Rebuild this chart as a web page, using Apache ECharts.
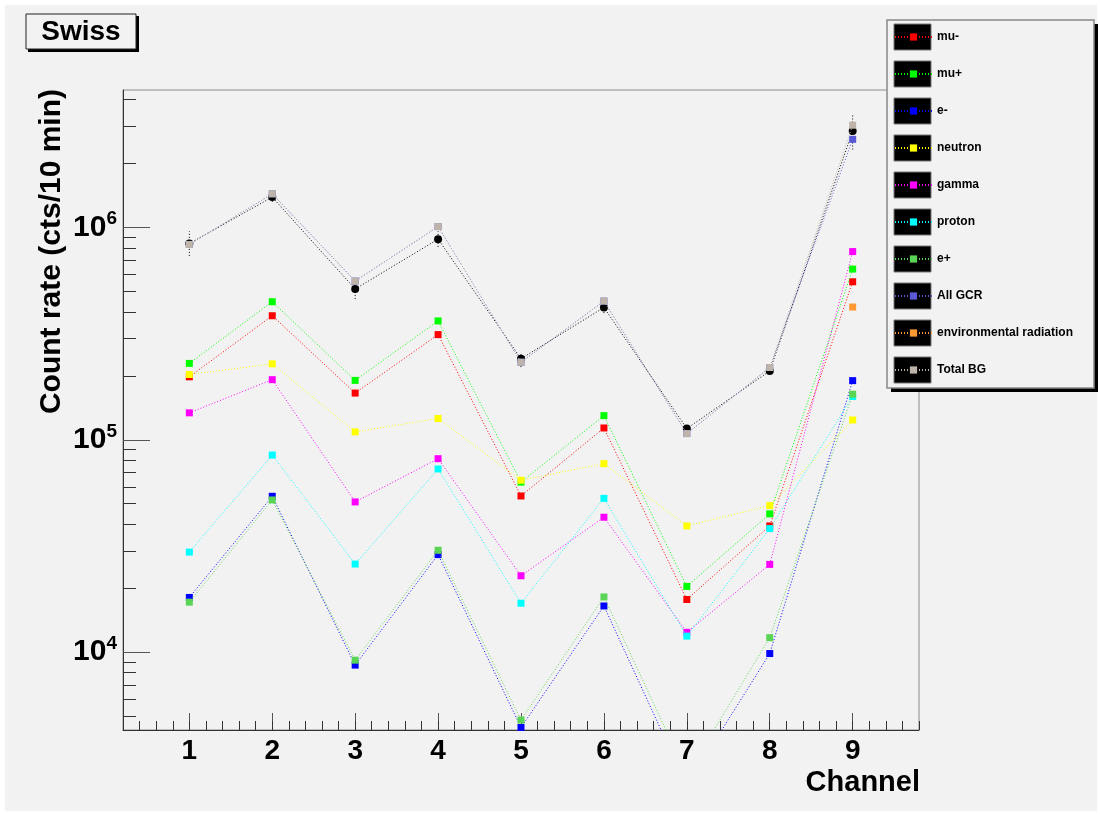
<!DOCTYPE html>
<html>
<head>
<meta charset="utf-8">
<script src="https://cdn.jsdelivr.net/npm/echarts@6/dist/echarts.min.js"></script>
<style>
html,body{margin:0;padding:0;background:#ffffff;}
#chart{width:1100px;height:814px;}
</style>
</head>
<body>
<div id="chart"></div>
<script>
// ---- data ----
const channels = [1, 2, 3, 4, 5, 6, 7, 8, 9];
const muMinus = [1.98e5, 3.84e5, 1.66e5, 3.13e5, 5.44e4, 1.137e5, 1.77e4, 3.93e4, 5.55e5];
const muPlus  = [2.29e5, 4.47e5, 1.905e5, 3.63e5, 6.32e4, 1.30e5, 2.04e4, 4.48e4, 6.37e5];
const eMinus  = [1.81e4, 5.42e4, 8.69e3, 2.88e4, 4.42e3, 1.65e4, 2.35e3, 9.85e3, 1.90e5];
const neutron = [2.03e5, 2.28e5, 1.09e5, 1.26e5, 6.45e4, 7.72e4, 3.93e4, 4.90e4, 1.24e5];
const gamma   = [1.34e5, 1.92e5, 5.10e4, 8.15e4, 2.29e4, 4.32e4, 1.24e4, 2.59e4, 7.70e5];
const proton  = [2.96e4, 8.48e4, 2.60e4, 7.29e4, 1.70e4, 5.30e4, 1.19e4, 3.82e4, 1.60e5];
const ePlus   = [1.72e4, 5.21e4, 9.17e3, 3.02e4, 4.79e3, 1.82e4, 2.65e3, 1.17e4, 1.64e5];
const allGCR  = [8.32e5, 1.44e6, 5.59e5, 1.01e6, 2.32e5, 4.50e5, 1.07e5, 2.19e5, 2.60e6];
const envRad  = [null, null, null, null, null, null, null, null, 4.22e5];
const totalBG = [8.32e5, 1.44e6, 5.59e5, 1.01e6, 2.32e5, 4.50e5, 1.07e5, 2.19e5, 3.03e6];
const measured     = [8.40e5, 1.39e6, 5.13e5, 8.81e5, 2.41e5, 4.20e5, 1.13e5, 2.11e5, 2.85e6];
const measuredLow  = [7.35e5, 1.32e6, 4.60e5, 8.10e5, 2.20e5, 3.95e5, 1.08e5, 2.03e5, 2.33e6];
const measuredHigh = [9.60e5, 1.46e6, 5.70e5, 9.60e5, 2.59e5, 4.45e5, 1.18e5, 2.20e5, 3.44e6];

const seriesNames  = ['mu-', 'mu+', 'e-', 'neutron', 'gamma', 'proton', 'e+', 'All GCR', 'environmental radiation', 'Total BG'];
const seriesValues = [muMinus, muPlus, eMinus, neutron, gamma, proton, ePlus, allGCR, envRad, totalBG];
const seriesColors = ['#ff0000', '#00ff00', '#0000ff', '#ffff00', '#ff00ff', '#00ffff', '#59d454', '#5a5ad8', '#ff9933', '#bfb4aa'];

const xTickLabels = [1, 2, 3, 4, 5, 6, 7, 8, 9];
const yMajorTicks = [1e4, 1e5, 1e6];
const yMinorTicks = [5e3, 6e3, 7e3, 8e3, 9e3,
  2e4, 3e4, 4e4, 5e4, 6e4, 7e4, 8e4, 9e4,
  2e5, 3e5, 4e5, 5e5, 6e5, 7e5, 8e5, 9e5,
  2e6, 3e6, 4e6];
const xMin = 0.2, xMax = 9.8, yMin = 4300, yMax = 4.44e6;

// ---- chart ----
const FONT = 'Liberation Sans, Arial, Helvetica, sans-serif';
const gridRect = {left: 123, top: 90, right: 181, bottom: 84};

function pairs(vals) {
  return channels.map((c, i) => [c, vals[i]]).filter(d => d[1] !== null);
}

const lineSeries = seriesNames.map((name, k) => ({
  name: name,
  type: 'line',
  xAxisIndex: 0, yAxisIndex: 0,
  data: pairs(seriesValues[k]),
  symbol: 'rect',
  symbolSize: 7,
  color: seriesColors[k],
  itemStyle: {color: seriesColors[k]},
  lineStyle: {color: seriesColors[k], width: 1, type: [1, 2]},
  z: 3 + k * 0.01,
  emphasis: {disabled: true},
  animation: false
}));

const option = {
  backgroundColor: '#ffffff',
  animation: false,
  textStyle: {fontFamily: FONT},
  grid: [
    Object.assign({show: true, borderColor: '#8c8c8c', borderWidth: 1, backgroundColor: 'transparent'}, gridRect),
    Object.assign({show: false}, gridRect)
  ],
  xAxis: [
    {
      type: 'value', gridIndex: 0, min: xMin, max: xMax, position: 'bottom',
      axisLine: {show: true, onZero: false, lineStyle: {color: '#333', width: 1}},
      axisTick: {show: true, inside: true, length: 17, customValues: xTickLabels, lineStyle: {color: '#555'}},
      axisLabel: {show: true, customValues: xTickLabels, margin: 7, fontSize: 28, fontWeight: 'bold', color: '#000', fontFamily: FONT,
        formatter: v => String(Math.round(v))},
      splitLine: {show: false}
    },
    {
      type: 'value', gridIndex: 1, min: xMin, max: xMax, interval: 0.2, position: 'bottom',
      axisLine: {show: false},
      axisTick: {show: true, inside: true, length: 9, lineStyle: {color: '#333'}},
      axisLabel: {show: false},
      splitLine: {show: false}
    }
  ],
  yAxis: [
    {
      type: 'log', gridIndex: 0, min: yMin, max: yMax, position: 'left',
      axisLine: {show: true, onZero: false, lineStyle: {color: '#333', width: 1}},
      axisTick: {show: true, inside: true, length: 27, customValues: yMajorTicks, lineStyle: {color: '#555'}},
      axisLabel: {
        show: true, customValues: yMajorTicks, margin: 6, color: '#000',
        formatter: v => '{b|10}{s|' + Math.round(Math.log10(v)) + '}',
        rich: {
          b: {fontSize: 30, fontWeight: 'bold', fontFamily: FONT, lineHeight: 36, color: '#000'},
          s: {fontSize: 19, fontWeight: 'bold', fontFamily: FONT, lineHeight: 19, verticalAlign: 'top', color: '#000'}
        }
      },
      splitLine: {show: false}
    },
    {
      type: 'log', gridIndex: 1, min: yMin, max: yMax, position: 'left',
      axisLine: {show: false},
      axisTick: {show: true, inside: true, length: 13, customValues: yMinorTicks, lineStyle: {color: '#333'}},
      axisLabel: {show: false},
      splitLine: {show: false}
    }
  ],
  legend: {
    data: seriesNames,
    orient: 'vertical',
    left: 894, top: 30,
    padding: 0,
    itemWidth: 37, itemHeight: 9, itemGap: 23, itemTextGap: 8,
    textStyle: {fontSize: 12, fontWeight: 'bold', color: '#000', fontFamily: FONT, lineHeight: 14},
    selectedMode: false,
    z: 6
  },
  series: [
    {
      name: 'measured',
      type: 'line',
      data: pairs(measured),
      symbol: 'circle', symbolSize: 8,
      itemStyle: {color: '#000'},
      lineStyle: {color: '#000', width: 1, type: [1, 2]},
      z: 2.5,
      emphasis: {disabled: true}
    },
    {
      name: 'measured error',
      type: 'custom',
      data: channels.map((c, i) => [c, measuredLow[i], measuredHigh[i]]),
      z: 2.4,
      renderItem: function (params, api) {
        const p1 = api.coord([api.value(0), api.value(1)]);
        const p2 = api.coord([api.value(0), api.value(2)]);
        return {type: 'line', shape: {x1: p1[0], y1: p1[1], x2: p2[0], y2: p2[1]},
          style: {stroke: '#000', lineWidth: 1, lineDash: [1, 2]}};
      }
    }
  ].concat(lineSeries),
  graphic: [
    // canvas panel
    {type: 'rect', z: -100, silent: true, shape: {x: 5, y: 5, width: 1092, height: 806}, style: {fill: '#f2f2f2'}},
    // title box
    {type: 'rect', z: 10, silent: true, shape: {x: 28, y: 16, width: 111, height: 36}, style: {fill: '#000'}},
    {type: 'rect', z: 10, z2: 1, silent: true, shape: {x: 26, y: 14, width: 110, height: 35}, style: {fill: '#f2f2f2', stroke: '#222', lineWidth: 1}},
    {type: 'text', z: 10, z2: 2, silent: true, x: 81, y: 32,
      style: {text: 'Swiss', fontSize: 28, fontWeight: 'bold', fontFamily: FONT, fill: '#000', textAlign: 'center', textVerticalAlign: 'middle'}},
    // legend box
    {type: 'rect', z: 5, silent: true, shape: {x: 891, y: 24, width: 207, height: 368}, style: {fill: '#000'}},
    {type: 'rect', z: 5, z2: 1, silent: true, shape: {x: 887, y: 20, width: 207, height: 368}, style: {fill: '#f2f2f2', stroke: '#888', lineWidth: 1.5}}
  ].concat(seriesNames.map((n, i) => ({
    type: 'rect', z: 5, z2: 2, silent: true,
    shape: {x: 894, y: 24 + 37 * i, width: 37, height: 26},
    style: {fill: '#000', stroke: '#777', lineWidth: 1}
  }))).concat([
    // axis titles
    {type: 'text', z: 10, silent: true, x: 52, y: 89, rotation: Math.PI / 2,
      style: {text: 'Count rate (cts/10 min)', fontSize: 30, fontWeight: 'bold', fontFamily: FONT, fill: '#000', textAlign: 'right', textVerticalAlign: 'middle'}},
    {type: 'text', z: 10, silent: true, x: 920, y: 783,
      style: {text: 'Channel', fontSize: 29, fontWeight: 'bold', fontFamily: FONT, fill: '#000', textAlign: 'right', textVerticalAlign: 'middle'}}
  ])
};

const chart = echarts.init(document.getElementById('chart'), null, {renderer: 'canvas', width: 1100, height: 814});
chart.setOption(option);
</script>
</body>
</html>
